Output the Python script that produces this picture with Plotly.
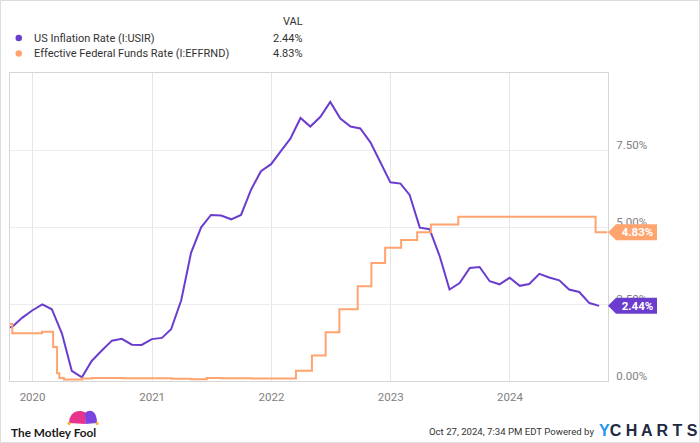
import plotly.graph_objects as go
import pandas as pd

# ---------------- data ----------------
infl_name = "US Inflation Rate (I:USIR)"
fed_name = "Effective Federal Funds Rate (I:EFFRND)"

infl_dates = pd.date_range("2019-09-30", periods=61, freq="ME")
infl_values = [
    1.71, 1.76, 2.05, 2.29,
    2.49, 2.33, 1.54, 0.33, 0.12, 0.65, 0.99, 1.31, 1.37, 1.18, 1.17, 1.36,
    1.40, 1.68, 2.62, 4.16, 4.99, 5.39, 5.37, 5.25, 5.39, 6.22, 6.81, 7.04,
    7.48, 7.87, 8.54, 8.26, 8.58, 9.06, 8.52, 8.26, 8.20, 7.75, 7.11, 6.45,
    6.41, 6.04, 4.98, 4.93, 4.05, 2.97, 3.18, 3.67, 3.70, 3.24, 3.14, 3.35,
    3.09, 3.15, 3.48, 3.36, 3.27, 2.97, 2.89, 2.53, 2.44,
]

fed_dates = [
    "2019-10-20", "2019-10-31", "2020-01-30", "2020-03-04", "2020-03-16",
    "2020-03-23", "2020-04-06", "2020-06-01", "2020-07-01", "2020-10-01",
    "2021-03-01", "2021-05-01", "2021-06-17", "2021-08-01", "2021-11-01",
    "2022-03-17", "2022-05-05", "2022-06-16", "2022-07-28", "2022-09-22",
    "2022-11-03", "2022-12-15", "2023-02-02", "2023-03-23", "2023-05-04",
    "2023-07-27", "2024-09-19", "2024-10-25",
]
fed_values = [
    1.85, 1.55, 1.60, 1.10, 0.25,
    0.10, 0.05, 0.08, 0.10, 0.09,
    0.07, 0.06, 0.10, 0.09, 0.08,
    0.33, 0.83, 1.58, 2.33, 3.08,
    3.83, 4.33, 4.58, 4.83, 5.08,
    5.33, 4.83, 4.83,
]

y_tickvals = [0, 2.5, 5, 7.5]
y_ticktext = ["0.00%", "2.50%", "5.00%", "7.50%"]

timestamp_text = "Oct 27, 2024, 7:34 PM EDT Powered by"

# ---------------- styling ----------------
PURPLE = "#6a3dce"
ORANGE = "#ffa46e"
W, H = 700, 443
L, R, T, B = 10, 92, 73, 62
PW, PH = W - L - R, H - T - B
FONT = "Roboto"


def px(x):
    return (x - L) / PW


def py(y):
    return (H - B - y) / PH


fig = go.Figure()
fig.add_trace(go.Scatter(x=infl_dates, y=infl_values, mode="lines",
                         line=dict(color=PURPLE, width=2), name=infl_name,
                         showlegend=False, hoverinfo="skip"))
fig.add_trace(go.Scatter(x=pd.to_datetime(fed_dates), y=fed_values, mode="lines",
                         line=dict(color=ORANGE, width=2, shape="hv"), name=fed_name,
                         showlegend=False, hoverinfo="skip"))

shapes = []
annotations = []

# custom legend
LEG_SIZE = 11
annotations.append(dict(x=px(305), y=py(21), xref="paper", yref="paper", text="VAL",
                        showarrow=False, xanchor="right", yanchor="middle",
                        font=dict(family=FONT, size=LEG_SIZE, color="#333")))
for i, (nm, col, val) in enumerate([(infl_name, PURPLE, infl_values[-1]),
                                    (fed_name, ORANGE, fed_values[-1])]):
    yy = 38 + i * 15.5
    shapes.append(dict(type="circle", xref="paper", yref="paper",
                       x0=px(15.5), x1=px(22), y0=py(yy - 3.3), y1=py(yy + 3.3),
                       fillcolor=col, line=dict(width=0)))
    annotations.append(dict(x=px(32), y=py(yy), xref="paper", yref="paper", text=nm,
                            showarrow=False, xanchor="left", yanchor="middle",
                            font=dict(family=FONT, size=LEG_SIZE, color="#333")))
    annotations.append(dict(x=px(305), y=py(yy), xref="paper", yref="paper",
                            text=f"{val:.2f}%", showarrow=False, xanchor="right",
                            yanchor="middle", font=dict(family=FONT, size=LEG_SIZE, color="#333")))

# end-value tags
unit = PH / 10.0  # px per 1%
for col, val in [(ORANGE, fed_values[-1]), (PURPLE, infl_values[-1])]:
    hh = 8 / unit
    shapes.append(dict(type="path", xref="paper", yref="y",
                       path=f"M {px(608)},{val} L {px(616)},{val + hh} L {px(657)},{val + hh} "
                            f"L {px(657)},{val - hh} L {px(616)},{val - hh} Z",
                       fillcolor=col, line=dict(width=0), layer="above"))
    annotations.append(dict(x=px(614), y=val, xref="paper", yref="y",
                            text=f"<b>{val:.2f}%</b>", showarrow=False,
                            xanchor="left", yanchor="middle", width=43, height=16,
                            font=dict(family=FONT, size=11.5, color="white")))

# outer border
shapes.append(dict(type="rect", xref="paper", yref="paper",
                   x0=px(0.5), x1=px(699.5), y0=py(0.5), y1=py(442.5),
                   line=dict(color="#dddddd", width=1), fillcolor="rgba(0,0,0,0)"))

# footer: Motley Fool
annotations.append(dict(x=px(9), y=py(432), xref="paper", yref="paper",
                        text="<b>The Motley Fool</b>", showarrow=False,
                        xanchor="left", yanchor="middle",
                        font=dict(family="Lato", size=11.8, color="#1a1a1a")))
shapes.append(dict(type="path", xref="paper", yref="paper",
                   path=f"M {px(69)},{py(423)} C {px(69)},{py(413)} {px(78)},{py(408)} {px(86)},{py(413)} "
                        f"L {px(85.5)},{py(424)} Z",
                   fillcolor="#e8328c", line=dict(width=0)))
shapes.append(dict(type="path", xref="paper", yref="paper",
                   path=f"M {px(85)},{py(413)} C {px(91)},{py(408)} {px(97)},{py(412)} {px(97)},{py(423)} "
                        f"L {px(85.5)},{py(424)} Z",
                   fillcolor="#7a44e0", line=dict(width=0)))
for bx in (69, 97):
    shapes.append(dict(type="circle", xref="paper", yref="paper",
                       x0=px(bx - 1.6), x1=px(bx + 1.6), y0=py(425), y1=py(421.8),
                       fillcolor="#f5b52a", line=dict(width=0)))

# footer: timestamp and YCharts
annotations.append(dict(x=px(596), y=py(431), xref="paper", yref="paper",
                        text=timestamp_text, showarrow=False,
                        xanchor="right", yanchor="middle",
                        font=dict(family=FONT, size=9.6, color="#333")))
annotations.append(dict(x=px(597), y=py(430), xref="paper", yref="paper",
                        text="<b><span style='color:#2196f3'>Y</span>C H A R T S</b>",
                        showarrow=False, xanchor="left", yanchor="middle",
                        font=dict(family="Liberation Sans", size=16, color="#1e2a44")))

fig.update_layout(
    width=W, height=H,
    margin=dict(l=L, r=R, t=T, b=B),
    paper_bgcolor="white", plot_bgcolor="white",
    shapes=shapes, annotations=annotations,
    font=dict(family=FONT),
    xaxis=dict(range=["2019-10-24", "2024-10-27"], type="date",
               tick0="2020-01-01", dtick="M12", tickformat="%Y",
               showgrid=True, gridcolor="#e6e6e6", gridwidth=1,
               showline=True, linecolor="#d6d6d6", linewidth=1, mirror=True,
               ticks="", zeroline=False, ticklabelstandoff=5,
               tickfont=dict(family=FONT, size=11.5, color="#808080")),
    yaxis=dict(range=[0, 10], side="right", tickvals=y_tickvals, ticktext=y_ticktext,
               showgrid=True, gridcolor="#ececec", gridwidth=1,
               showline=True, linecolor="#d6d6d6", linewidth=1, mirror=True,
               ticks="", zeroline=False, ticklabelshift=-5, ticklabelstandoff=5,
               tickfont=dict(family=FONT, size=11.5, color="#808080")),
)

fig.write_html("out.html", config={"displayModeBar": False},
               post_script="document.body.style.margin='0';document.body.style.overflow='hidden';")
